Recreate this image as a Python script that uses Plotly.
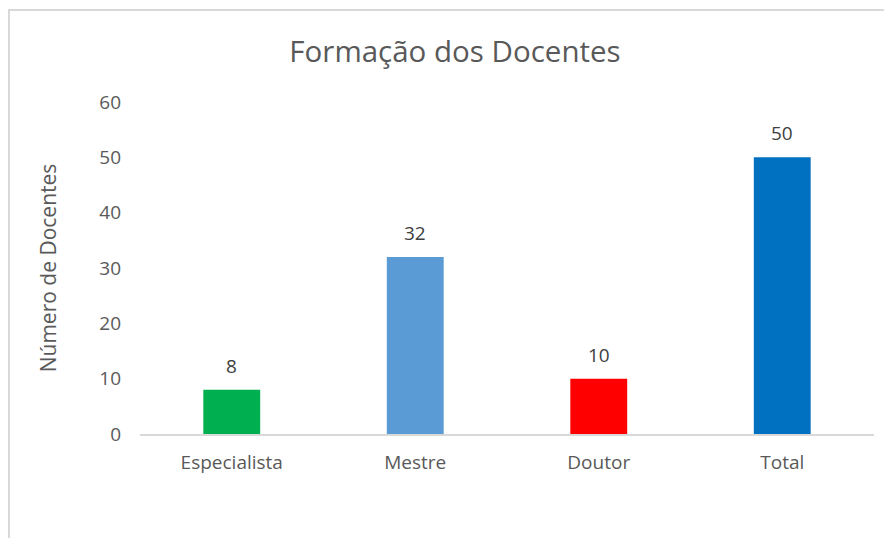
import plotly.graph_objects as go

categories = ["Especialista", "Mestre", "Doutor", "Total"]
values = [8, 32, 10, 50]
colors = ["#00B050", "#5B9BD5", "#FF0000", "#0070C0"]
y_ticks = [0, 10, 20, 30, 40, 50, 60]

FONT = "Open Sans"
OFF = 8  # page body margin

fig = go.Figure()
fig.add_trace(go.Bar(
    x=categories, y=values,
    marker=dict(color=colors, line=dict(width=0)),
    width=0.31,
    hoverinfo="x+y",
))

W, H = 892, 538
L, T = 140 - OFF, 102 - OFF
R = W - (874 - OFF)
B = H - (434 - OFF)
pw, ph = W - L - R, H - T - B

annotations = [
    dict(x=c, y=v, xref="x", yref="y", text=str(v), showarrow=False,
         yanchor="middle", yshift=24,
         font=dict(family=FONT, size=19, color="#404040"))
    for c, v in zip(categories, values)
]

fig.update_layout(
    width=W, height=H,
    margin=dict(l=L, r=R, t=T, b=B),
    paper_bgcolor="white", plot_bgcolor="white",
    showlegend=False,
    title=dict(text="Formação dos Docentes", x=(455 - OFF - L) / pw, xref="paper",
               xanchor="center", y=1 - (52 - OFF) / H, yanchor="middle",
               font=dict(family=FONT, size=29.5, color="#595959")),
    xaxis=dict(
        showgrid=False, showline=True, linecolor="#D9D9D9", linewidth=1.5,
        ticks="", tickfont=dict(family=FONT, size=19, color="#595959"),
        ticklabelstandoff=10,
    ),
    yaxis=dict(
        range=[0, 60], tickvals=y_ticks, showgrid=False, zeroline=False,
        showline=False, ticks="",
        tickfont=dict(family=FONT, size=19, color="#595959"),
        ticklabelstandoff=18,
        title=dict(text="Número de Docentes", standoff=36,
                   font=dict(family=FONT, size=21, color="#595959")),
    ),
    annotations=annotations,
    shapes=[dict(
        type="rect", xref="paper", yref="paper",
        x0=(1 - L) / pw, x1=(W + 5 - L) / pw,
        y0=-(H + 5 - (H - B)) / ph, y1=((H - B) - 2) / ph,
        line=dict(color="#D9D9D9", width=2), fillcolor="rgba(0,0,0,0)",
        layer="below",
    )],
)

fig.write_html("out.html")
